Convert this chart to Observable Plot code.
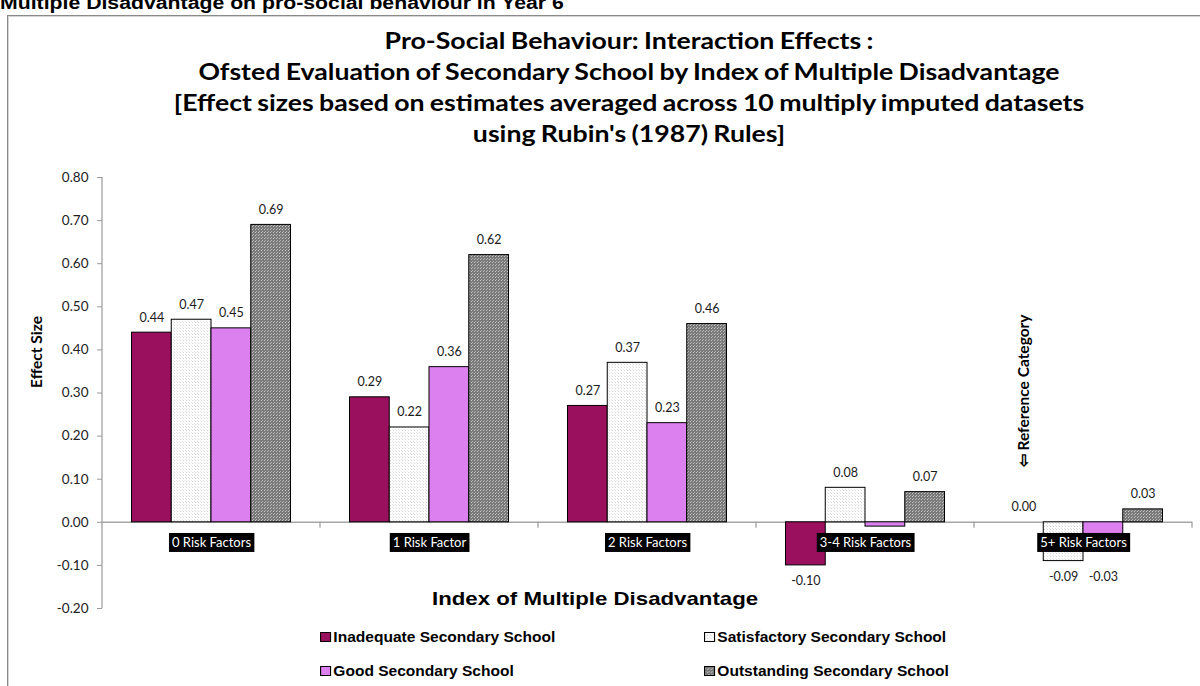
<!DOCTYPE html>
<html>
<head>
<meta charset="utf-8">
<script src="https://cdn.jsdelivr.net/npm/d3@7"></script>
<script src="https://cdn.jsdelivr.net/npm/@observablehq/plot@0.6"></script>
<style>
  body { margin: 0; background: #fff; }
  #wrap { position: relative; width: 1200px; height: 686px; overflow: hidden; background: #fff; }
  #topcut { position: absolute; left: 0; top: -7px; font: bold 18px "Liberation Sans", Arial, sans-serif; white-space: nowrap; color: #000; transform: scaleX(1.18); transform-origin: 0 0; }
  #frame { position: absolute; left: 7px; top: 15px; width: 1300px; height: 800px; border: 1px solid #8a8a8a; box-shadow: inset 1px 1px 0 #d4d4d4; }
  #title { position: absolute; left: 0; width: 1258px; top: 25px; text-align: center; font: bold 23px Lato, sans-serif; line-height: 31px; color: #000; transform: scaleX(1.16); transform-origin: 629px 0; word-spacing: -1px; }
  #chart { position: absolute; left: 0; top: 160px; }
  #xtitle { position: absolute; left: 432px; top: 588px; font: bold 19px "Liberation Sans", Arial, sans-serif; color: #000; white-space: nowrap; transform: scaleX(1.17); transform-origin: 0 0; }
  .leg { position: absolute; font: bold 14px "Liberation Sans", Arial, sans-serif; display: flex; align-items: center; white-space: nowrap; color: #000; transform: scaleX(1.11); transform-origin: 0 50%; }
  .leg svg { margin-right: 1px; }
</style>
</head>
<body>
<div id="wrap">
  <div id="topcut">Multiple Disadvantage on pro-social behaviour in Year 6</div>
  <div id="frame"></div>
  <div id="title">Pro-Social Behaviour: Interaction Effects :<br>Ofsted Evaluation of Secondary School by Index of Multiple Disadvantage<br>[Effect sizes based on estimates averaged across 10 multiply imputed datasets<br>using Rubin's (1987) Rules]</div>
  <div id="chart"></div>
  <div id="xtitle">Index of Multiple Disadvantage</div>
  <div id="legend"></div>
</div>
<script>
// ---- data ----
const categories = ["0 Risk Factors", "1 Risk Factor", "2 Risk Factors", "3-4 Risk Factors", "5+ Risk Factors"];
const seriesNames = ["Inadequate Secondary School", "Satisfactory Secondary School", "Good Secondary School", "Outstanding Secondary School"];
const inadequate   = [0.44, 0.29, 0.27, -0.10, 0.00];
const satisfactory = [0.47, 0.22, 0.37, 0.08, -0.09];
const good         = [0.45, 0.36, 0.23, -0.01, -0.03];
const outstanding  = [0.69, 0.62, 0.46, 0.07, 0.03];
const yTicks = [-0.2, -0.1, 0, 0.1, 0.2, 0.3, 0.4, 0.5, 0.6, 0.7, 0.8];
const referenceNote = "\u21E6 Reference Category";

// ---- styling ----
const seriesValues = [inadequate, satisfactory, good, outstanding];
const fills = ["#9A105E", "url(#patSat)", "#DC80EF", "url(#patOut)"];
const W = 1200, H = 470, ML = 102, MR = 8, MT = 17, MB = 22;
const BAND = (W - ML - MR) / categories.length;
const GP = 29.5;                       // gap on each side of a group
const BW = (BAND - 2 * GP) / seriesNames.length;

const rows = categories.flatMap((c, ci) => seriesNames.map((s, si) => ({category: c, series: s, si, ci, value: seriesValues[si][ci]})));

const marks = [
  Plot.axisY({ticks: yTicks, tickSize: 5, tickPadding: 9, tickFormat: d => d.toFixed(2), stroke: "#9a9a9a", fill: "#222", fontSize: 13.5, label: null}),
  Plot.ruleY([0], {stroke: "#a6a6a6", strokeWidth: 1.5})
];
seriesNames.forEach((s, si) => {
  const data = rows.filter(r => r.si === si);
  marks.push(Plot.barY(data, {
    x: "category", y: "value", fill: fills[si], stroke: "#000", strokeWidth: 1,
    insetLeft: GP + BW * si, insetRight: BAND - GP - BW * (si + 1)
  }));
});
seriesNames.forEach((s, si) => {
  const data = rows.filter(r => r.si === si);
  const dx = -BAND / 2 + GP + BW * (si + 0.5);
  marks.push(Plot.text(data.filter(r => r.value >= 0), {
    x: "category", y: "value", text: d => d.value.toFixed(2), dx, dy: -15, fontSize: 12.5, fill: "#1a1a1a"
  }));
  // negative labels: below the bar end, kept clear of the category label box
  marks.push(Plot.text(data.filter(r => r.value < -0.02), {
    x: "category", y: r => Math.min(r.value, -0.09), text: d => d.value.toFixed(2), dx, dy: 16, fontSize: 12.5, fill: "#1a1a1a"
  }));
});
// category labels (white on black boxes)
marks.push(Plot.text(categories, {x: d => d, y: categories.map(() => 0), dy: 21, fill: "#fff", fontSize: 13}));
// Effect size axis title
marks.push(Plot.text(["Effect Size"], {frameAnchor: "left", dx: -65, dy: -5, rotate: -90, fontWeight: "bold", fontSize: 15.5, fill: "#000"}));
// reference category note (over Inadequate, 5+)
marks.push(Plot.text([referenceNote], {x: () => categories[4], y: () => 0, dx: -BAND / 2 + GP + BW * 0.5, dy: -55, rotate: -90, textAnchor: "start", fontWeight: "bold", fontSize: 15.5, fill: "#000"}));

const plot = Plot.plot({
  width: W, height: H,
  marginLeft: ML, marginRight: MR, marginTop: MT, marginBottom: MB,
  x: {domain: categories, padding: 0, axis: null},
  y: {domain: [-0.2, 0.8], axis: null},
  style: {fontFamily: "Lato, sans-serif", background: "transparent", overflow: "visible"},
  marks
});
document.getElementById("chart").appendChild(plot);

// pattern defs
const svg = d3.select(plot);
const defs = svg.insert("defs", ":first-child");
const p1 = defs.append("pattern").attr("id", "patSat").attr("width", 3).attr("height", 3).attr("patternUnits", "userSpaceOnUse");
p1.append("rect").attr("width", 3).attr("height", 3).attr("fill", "#fff");
p1.append("rect").attr("width", 1).attr("height", 1).attr("fill", "#d6d6d6");
p1.append("rect").attr("x", 2).attr("y", 2).attr("width", 1).attr("height", 1).attr("fill", "#e6e6e6");
const p2 = defs.append("pattern").attr("id", "patOut").attr("width", 3).attr("height", 3).attr("patternUnits", "userSpaceOnUse");
p2.append("rect").attr("width", 3).attr("height", 3).attr("fill", "#7a7a7a");
p2.append("rect").attr("width", 1).attr("height", 1).attr("fill", "#c4c4c4");
p2.append("rect").attr("x", 1).attr("y", 2).attr("width", 1).attr("height", 1).attr("fill", "#b0b0b0");

// axis line and category boundary ticks via plot scales
const xs = plot.scale("x"), ys = plot.scale("y");
const y0 = ys.apply(0), yTop = ys.apply(0.8), yBot = ys.apply(-0.2);
const x0 = xs.range[0];
const g = svg.append("g").attr("stroke", "#9a9a9a").attr("stroke-width", 1.2);
g.append("line").attr("x1", x0).attr("x2", x0).attr("y1", yTop).attr("y2", yBot);
categories.forEach((c, i) => {
  const bx = xs.apply(c);
  g.append("line").attr("x1", bx + xs.bandwidth).attr("x2", bx + xs.bandwidth).attr("y1", y0).attr("y2", y0 + 6);
});

// boxes behind category labels
svg.selectAll("text").filter(function () { return categories.includes(this.textContent); }).each(function () {
  const b = this.getBBox();
  d3.select(this.parentNode).insert("rect", () => this)
    .attr("x", b.x - 3).attr("y", b.y - 1.5).attr("width", b.width + 6).attr("height", b.height + 3).attr("fill", "#000")
    .attr("transform", this.getAttribute("transform"));
});

// legend
const legPos = [[320, 629], [704, 629], [320, 663], [704, 663]];
const leg = document.getElementById("legend");
seriesNames.forEach((s, si) => {
  const d = document.createElement("div");
  d.className = "leg";
  d.style.left = legPos[si][0] + "px";
  d.style.top = legPos[si][1] + "px";
  d.innerHTML = `<svg width="11" height="11"><rect x="0.5" y="0.5" width="9" height="9" fill="${fills[si]}" stroke="#000"/></svg><span>${s}</span>`;
  leg.appendChild(d);
});
</script>
</body>
</html>
